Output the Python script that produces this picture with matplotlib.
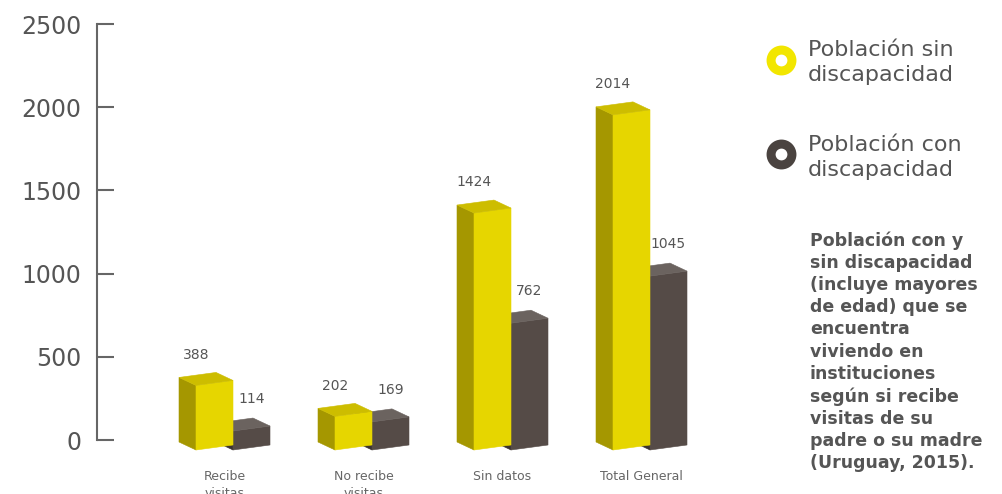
import matplotlib
matplotlib.use("Agg")
import matplotlib.pyplot as plt
from matplotlib.patches import Polygon
from matplotlib.lines import Line2D

# ---- data -------------------------------------------------------------
categories = ["Recibe\nvisitas", "No recibe\nvisitas", "Sin datos", "Total General"]
sin_discapacidad = [388, 202, 1424, 2014]
con_discapacidad = [114, 169, 762, 1045]
y_ticks = [0, 500, 1000, 1500, 2000, 2500]
legend_labels = ["Población sin\ndiscapacidad", "Población con\ndiscapacidad"]
note_text = ("Población con y\nsin discapacidad\n(incluye mayores\nde edad) que se\n"
             "encuentra\nviviendo en\ninstituciones\nsegún si recibe\nvisitas de su\n"
             "padre o su madre\n(Uruguay, 2015).")

# ---- style ------------------------------------------------------------
FONT = "DejaVu Sans"
TEXT = "#555555"
YELLOW = {"front": "#E6D600", "side": "#A59700", "top": "#CDBD00"}
DARK = {"front": "#554B47", "side": "#3A3330", "top": "#6B635F"}

W, H = 1003, 494
fig = plt.figure(figsize=(W / 100, H / 100), dpi=100)
fig.patch.set_facecolor("white")

# axes frame in pixels (left, right, y of value 0, y of value 2500)
ax_left, ax_right = 97, 740
y0_px, ytop_px = 440, 24
ylo, yhi = -100, 2600
ppu = (y0_px - ytop_px) / 2500.0
bot_px = y0_px - ylo * ppu
top_px = y0_px - yhi * ppu
ax = fig.add_axes([ax_left / W, 1 - bot_px / H,
                   (ax_right - ax_left) / W, (bot_px - top_px) / H])

# category slots: shared edge between the two bars of a group
slot0_px, slot_step_px = 233, 139
ax.set_xlim((ax_left - slot0_px) / slot_step_px, (ax_right - slot0_px) / slot_step_px)
ax.set_ylim(ylo, yhi)

fig.canvas.draw()
bb = ax.get_window_extent()
sx = (ax.get_xlim()[1] - ax.get_xlim()[0]) / bb.width    # data per pixel (x)
sy = (ax.get_ylim()[1] - ax.get_ylim()[0]) / bb.height   # data per pixel (y)

BAR_W = 37      # front face width, px
SIDE_DX = -17   # depth offset to the left, px
SIDE_DY = 8     # depth offset upward, px
RISE = 5        # front face bottom/top tilt, px
DROP = 10       # front corner sits below the baseline, px


def draw_box(x_front, value, pal, z):
    w = BAR_W * sx
    dxl, dyl = SIDE_DX * sx, SIDE_DY * sy
    dr = RISE * sy
    yb = -DROP * sy
    yt = yb + value
    fb, ft = (x_front, yb), (x_front, yt)
    rb, rt = (x_front + w, yb + dr), (x_front + w, yt + dr)
    lb, lt = (x_front + dxl, yb + dyl), (x_front + dxl, yt + dyl)
    bt = (x_front + w + dxl, yt + dr + dyl)
    ax.add_patch(Polygon([lb, fb, ft, lt], closed=True, fc=pal["side"], ec=pal["side"], lw=0.4, zorder=z))
    ax.add_patch(Polygon([fb, rb, rt, ft], closed=True, fc=pal["front"], ec=pal["front"], lw=0.4, zorder=z + 0.1))
    ax.add_patch(Polygon([lt, ft, rt, bt], closed=True, fc=pal["top"], ec=pal["top"], lw=0.4, zorder=z + 0.2))


for i, (a, b) in enumerate(zip(sin_discapacidad, con_discapacidad)):
    z = 2 + i
    # darker series sits behind the yellow one
    draw_box(i, b, DARK, z)
    draw_box(i - BAR_W * sx, a, YELLOW, z + 0.5)
    ax.annotate(str(a), (i - BAR_W * sx, a), xytext=(0, 15), textcoords="offset points",
                ha="center", va="center", fontsize=10, color=TEXT, family=FONT)
    ax.annotate(str(b), (i + BAR_W * sx / 2, b), xytext=(0, 16), textcoords="offset points",
                ha="center", va="center", fontsize=10, color=TEXT, family=FONT)
    ax.text(i - 8.5 * sx, ylo + (bot_px - 470) * sy, categories[i], ha="center", va="top",
            fontsize=9, color="#666666", family=FONT, linespacing=1.35, clip_on=False)

# axis styling
for s in ("top", "right", "bottom"):
    ax.spines[s].set_visible(False)
ax.spines["left"].set_bounds(0, 2500)
ax.spines["left"].set_color("#666666")
ax.spines["left"].set_linewidth(1.5)
ax.set_xticks([])
ax.set_yticks(y_ticks)
ax.set_yticklabels([str(t) for t in y_ticks], family=FONT)
ax.tick_params(axis="y", direction="in", length=12.5, width=1.5, color="#666666",
               pad=11, labelsize=17, labelcolor=TEXT)
ax.patch.set_alpha(0)

# legend rings and labels
ring_x = 781
for (ry, text_top), pal, lab in zip([(60, 40), (154, 135)], [YELLOW, DARK], legend_labels):
    ring_col = "#F2E600" if pal is YELLOW else "#4A4340"
    fig.add_artist(Line2D([ring_x / W], [1 - ry / H], transform=fig.transFigure,
                          marker="o", ms=15, mew=6.5, mfc="white", mec=ring_col, ls="none"))
    fig.text(808 / W, 1 - text_top / H, lab, ha="left", va="top", fontsize=16,
             color=TEXT, family=FONT, linespacing=1.3)

fig.text(810 / W, 1 - 231 / H, note_text, ha="left", va="top", fontsize=12.5,
         color=TEXT, family=FONT, fontweight="bold", linespacing=1.3)

fig.savefig("out.png", dpi=100, facecolor="white")
